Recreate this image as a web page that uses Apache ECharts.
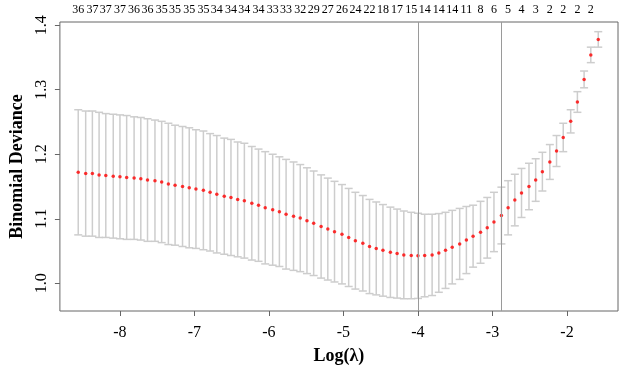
<!DOCTYPE html>
<html>
<head>
<meta charset="utf-8">
<script src="https://cdn.jsdelivr.net/npm/echarts@6/dist/echarts.min.js"></script>
<style>
html, body { margin: 0; padding: 0; background: #fff; }
#main { width: 624px; height: 370px; }
</style>
</head>
<body>
<div id="main"></div>
<script>
// log(lambda) of each fit, left to right
var logLambda = [
	-8.56, -8.46, -8.37, -8.28, -8.19, -8.09, -8.00, -7.91, -7.81, -7.72,
	-7.63, -7.53, -7.44, -7.35, -7.26, -7.16, -7.07, -6.98, -6.88, -6.79,
	-6.70, -6.60, -6.51, -6.42, -6.33, -6.23, -6.14, -6.05, -5.95, -5.86,
	-5.77, -5.67, -5.58, -5.49, -5.40, -5.30, -5.21, -5.12, -5.02, -4.93,
	-4.84, -4.74, -4.65, -4.56, -4.47, -4.37, -4.28, -4.19, -4.09, -4.00,
	-3.91, -3.81, -3.72, -3.63, -3.54, -3.44, -3.35, -3.26, -3.16, -3.07,
	-2.98, -2.88, -2.79, -2.70, -2.61, -2.51, -2.42, -2.33, -2.23, -2.14,
	-2.05, -1.95, -1.86, -1.77, -1.68, -1.58
];
// mean cross-validated deviance
var cvm = [
	1.172, 1.170, 1.170, 1.168, 1.167, 1.166, 1.165, 1.164, 1.163, 1.162,
	1.160, 1.159, 1.157, 1.154, 1.152, 1.150, 1.148, 1.146, 1.144, 1.141,
	1.138, 1.135, 1.133, 1.130, 1.128, 1.124, 1.121, 1.117, 1.114, 1.111,
	1.107, 1.104, 1.101, 1.097, 1.093, 1.088, 1.084, 1.080, 1.076, 1.071,
	1.066, 1.062, 1.057, 1.054, 1.051, 1.048, 1.046, 1.044, 1.043, 1.0425,
	1.043, 1.044, 1.047, 1.051, 1.056, 1.061, 1.067, 1.073, 1.079, 1.086,
	1.095, 1.105, 1.117, 1.129, 1.140, 1.150, 1.160, 1.173, 1.188, 1.205,
	1.226, 1.251, 1.281, 1.316, 1.354, 1.378
];
// standard error of the deviance
var cvsd = [
	0.097, 0.097, 0.097, 0.097, 0.096, 0.096, 0.096, 0.096, 0.095, 0.095,
	0.095, 0.094, 0.094, 0.094, 0.093, 0.093, 0.093, 0.092, 0.092, 0.091,
	0.091, 0.090, 0.090, 0.089, 0.089, 0.088, 0.087, 0.087, 0.086, 0.085,
	0.085, 0.084, 0.083, 0.082, 0.081, 0.080, 0.079, 0.078, 0.077, 0.076,
	0.075, 0.074, 0.073, 0.072, 0.071, 0.070, 0.069, 0.068, 0.067, 0.066,
	0.064, 0.063, 0.061, 0.059, 0.057, 0.055, 0.052, 0.048, 0.048, 0.047,
	0.046, 0.044, 0.042, 0.040, 0.038, 0.036, 0.033, 0.030, 0.027, 0.024,
	0.022, 0.018, 0.016, 0.013, 0.012, 0.012
];
// number of nonzero coefficients (shown for every other lambda)
var nzero = [
	36, 37, 37, 37, 36, 36, 35, 35, 35, 35,
	34, 34, 34, 34, 33, 33, 32, 29, 27, 26,
	24, 22, 18, 17, 15, 14, 14, 14, 11, 8,
	6, 5, 4, 3, 2, 2, 2, 2
];
var xTicks = [-8, -7, -6, -5, -4, -3, -2];
var yTicks = [1.0, 1.1, 1.2, 1.3, 1.4];
var lambdaMin = -4.00;
var lambda1se = -2.88;

var font = 'Liberation Serif';
var xMin = -8.806, xMax = -1.315;
var yMin = 0.957, yMax = 1.405;

var nzeroAt = [];
for (var i = 0; i < logLambda.length; i += 2) {
	nzeroAt.push(logLambda[i]);
}

var barData = [];
var pointData = [];
for (var i = 0; i < logLambda.length; i++) {
	barData.push([logLambda[i], cvm[i] - cvsd[i], cvm[i] + cvsd[i]]);
	pointData.push([logLambda[i], cvm[i]]);
}

// error bar with caps, like R's error.bars()
function renderBar(params, api) {
	var x = api.value(0);
	var lo = api.coord([x, api.value(1)]);
	var hi = api.coord([x, api.value(2)]);
	var w = 4;
	var style = { stroke: '#cdcdcd', lineWidth: 1.5 };
	return {
		type: 'group',
		children: [
			{ type: 'line', shape: { x1: lo[0], y1: lo[1], x2: hi[0], y2: hi[1] }, style: style },
			{ type: 'line', shape: { x1: hi[0] - w, y1: hi[1], x2: hi[0] + w, y2: hi[1] }, style: style },
			{ type: 'line', shape: { x1: lo[0] - w, y1: lo[1], x2: lo[0] + w, y2: lo[1] }, style: style }
		]
	};
}

var myChart = echarts.init(document.getElementById('main'));
var option = {
	animation: false,
	backgroundColor: '#fff',
	grid: {
		left: 54,
		right: 6,
		top: 22,
		bottom: 56,
		show: true,
		borderColor: '#666',
		borderWidth: 1
	},
	xAxis: [{
		type: 'value',
		min: xMin,
		max: xMax,
		position: 'bottom',
		name: 'Log(λ)',
		nameLocation: 'middle',
		nameGap: 36,
		nameTextStyle: { fontFamily: font, fontWeight: 'bold', fontSize: 18, color: '#000' },
		axisLine: { show: false },
		splitLine: { show: false },
		axisTick: { show: true, length: 5, customValues: xTicks, lineStyle: { color: '#666' } },
		axisLabel: {
			customValues: xTicks,
			margin: 14,
			fontFamily: font,
			fontSize: 16,
			color: '#000'
		}
	}, {
		type: 'value',
		min: xMin,
		max: xMax,
		position: 'top',
		axisLine: { show: false },
		splitLine: { show: false },
		axisTick: { show: false },
		axisLabel: {
			customValues: nzeroAt,
			margin: 6,
			fontFamily: font,
			fontSize: 12,
			color: '#000',
			formatter: function(v) {
				var k = nzeroAt.indexOf(v);
				return k >= 0 ? String(nzero[k]) : '';
			}
		}
	}],
	yAxis: {
		type: 'value',
		min: yMin,
		max: yMax,
		name: 'Binomial Deviance',
		nameLocation: 'middle',
		nameGap: 30,
		nameTextStyle: { fontFamily: font, fontWeight: 'bold', fontSize: 18, color: '#000' },
		axisLine: { show: false },
		splitLine: { show: false },
		axisTick: { show: true, length: 5, customValues: yTicks, lineStyle: { color: '#666' } },
		axisLabel: {
			customValues: yTicks,
			rotate: 90,
			margin: 10,
			fontFamily: font,
			fontSize: 16,
			color: '#000',
			formatter: function(v) { return v.toFixed(1); }
		}
	},
	series: [{
		type: 'custom',
		renderItem: renderBar,
		data: barData,
		encode: { x: 0, y: [1, 2] },
		silent: true,
		z: 1
	}, {
		type: 'scatter',
		data: pointData,
		symbol: 'circle',
		symbolSize: 3.5,
		itemStyle: { color: '#ff0000' },
		silent: true,
		z: 3,
		markLine: {
			silent: true,
			symbol: ['none', 'none'],
			label: { show: false },
			lineStyle: { color: '#9a9a9a', width: 1, type: 'solid' },
			data: [{ xAxis: lambdaMin }, { xAxis: lambda1se }]
		}
	}]
};
myChart.setOption(option);
</script>
</body>
</html>
